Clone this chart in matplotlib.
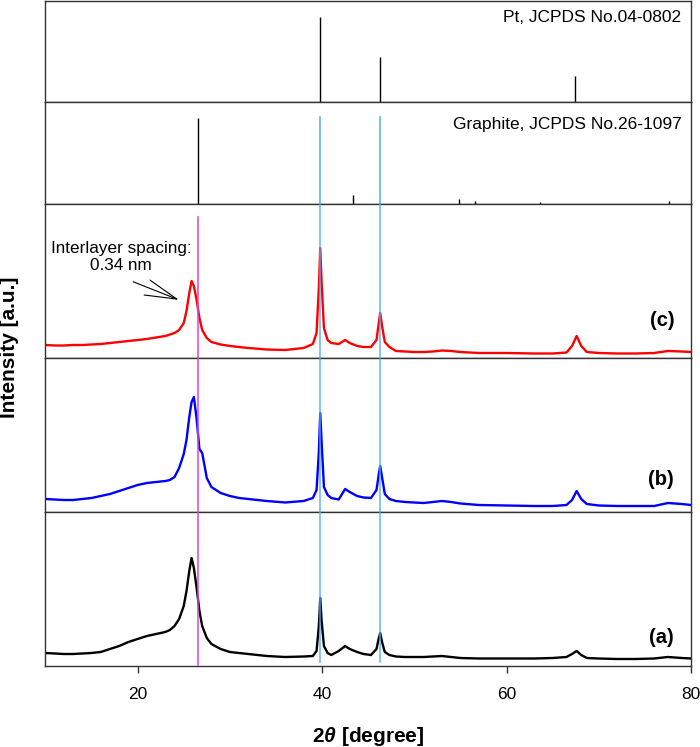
import matplotlib
matplotlib.use('Agg')
import matplotlib.pyplot as plt

plt.rcParams['font.family'] = ['Liberation Sans', 'DejaVu Sans']
plt.rcParams['mathtext.fontset'] = 'custom'
plt.rcParams['mathtext.rm'] = 'Liberation Sans:bold'
plt.rcParams['mathtext.it'] = 'Liberation Sans:italic:bold'

# reference patterns (JCPDS)
pt_pos = [39.76, 46.24, 67.45]
pt_int = [100, 53, 31]
gr_pos = [26.6, 43.4, 54.8, 56.6, 63.6, 77.6]
gr_int = [100, 10.5, 5.5, 3.5, 1.8, 3.8]

# measured scans (shared 2theta grid)
two_theta = [10, 11, 12, 13, 14, 15, 16, 17, 18, 19,
             20, 21, 22, 23, 23.5, 24, 24.5, 25, 25.3, 25.6,
             25.85, 26.1, 26.4, 26.7, 27, 27.5, 28, 29, 30, 31,
             32, 34, 36, 38, 39, 39.4, 39.65, 39.8, 39.95, 40.2,
             40.6, 41, 41.8, 42.5, 43, 43.8, 44.5, 45.3, 45.9, 46.15,
             46.3, 46.5, 46.8, 47.3, 48, 49, 50, 51, 52, 53,
             54, 55, 57, 60, 63, 65, 66.5, 67.1, 67.6, 68.1,
             68.7, 70, 72, 74, 76, 77.5, 79, 80]

int_a = [13, 12.5, 12, 12, 12.5, 13, 14, 17, 20, 24,
         27, 30, 32, 34, 36, 40, 47, 60, 75, 95,
         108, 98, 78, 55, 40, 28, 22, 17, 14, 13,
         12, 10, 9, 9.5, 10, 15, 40, 68, 45, 20,
         13, 11, 15, 20, 17, 14, 12, 11, 17, 28,
         33, 24, 14, 11, 9.5, 9, 9, 9, 9.5, 10,
         9, 8, 7.5, 7.5, 7.5, 8, 9, 12, 15, 11,
         8, 7.5, 7, 7, 7.5, 9, 8, 7.5]

int_b = [13, 12.5, 12, 12, 13, 14, 16, 18, 21, 24,
         27, 29, 30, 31, 32, 35, 44, 58, 72, 95,
         110, 115, 93, 63, 59, 34, 25, 19, 16, 14,
         13, 11, 9.5, 11, 14, 22, 60, 99, 70, 25,
         17, 14, 12.5, 23, 20, 16, 14.5, 14, 22, 38,
         46, 35, 18, 13, 11, 10, 9.5, 9, 10, 11,
         10, 8.5, 7, 6.5, 6, 6, 7, 12, 21, 13,
         8, 6.5, 6, 6, 6, 9, 8, 7]

int_c = [13, 12.5, 12.5, 13, 13, 13.5, 14, 15, 16, 17,
         18, 19, 20.5, 22, 23.5, 25, 28, 35, 47, 65,
         77, 72, 58, 40, 28, 20, 16, 13.5, 12, 11,
         10, 8.5, 8, 10, 14, 25, 70, 110, 75, 30,
         18, 15, 14, 18, 15, 12, 11, 11, 18, 35,
         45, 32, 16, 11, 7, 6.5, 6, 6, 6.5, 7.5,
         7, 6, 5, 5, 4.5, 4.5, 5.5, 12, 22, 12,
         6, 5, 4.5, 4.5, 5, 7, 6.5, 6]

fig = plt.figure(figsize=(7.0, 7.47), dpi=100)
gs = fig.add_gridspec(5, 1, height_ratios=[101, 102, 154, 154, 154],
                      left=45.4 / 700, right=691 / 700,
                      top=1 - 1 / 747, bottom=1 - 666 / 747, hspace=0)
axes = [fig.add_subplot(gs[i]) for i in range(5)]
ax_pt, ax_gr, ax_c, ax_b, ax_a = axes

for ax in axes:
    ax.set_xlim(10, 80)
    ax.set_yticks([])
    for sp in ax.spines.values():
        sp.set_linewidth(1.0)
        sp.set_color('#333333')
    if ax is not ax_a:
        ax.set_xticks([])

ax_pt.vlines(pt_pos, 0, pt_int, color='k', lw=1.0)
ax_pt.set_ylim(0, 119)
ax_pt.text(0.985, 0.84, 'Pt, JCPDS No.04-0802', transform=ax_pt.transAxes,
           ha='right', va='center', fontsize=12.5)

ax_gr.vlines(gr_pos, 0, gr_int, color='k', lw=1.0)
ax_gr.set_ylim(0, 119)
ax_gr.text(0.985, 0.775, 'Graphite, JCPDS No.26-1097', transform=ax_gr.transAxes,
           ha='right', va='center', fontsize=12.5)

for ax, y, col, lab, ly in [(ax_c, int_c, 'red', '(c)', 0.245),
                            (ax_b, int_b, 'blue', '(b)', 0.21),
                            (ax_a, int_a, 'black', '(a)', 0.185)]:
    ax.plot(two_theta, y, color=col, lw=1.7, zorder=2)
    ax.set_ylim(0, 154)
    ax.text(0.974, ly, lab, transform=ax.transAxes, ha='right', va='center',
            fontsize=14.5, fontweight='bold')

# guide lines across panels
blue_c = '#55aaf5'
mag_c = '#dd44dd'
for p in [39.76, 46.24]:
    ax_gr.axvline(p, ymin=0, ymax=0.853, color=blue_c, lw=1.1, zorder=3)
    ax_c.axvline(p, color=blue_c, lw=1.1, zorder=3, alpha=0.9)
    ax_b.axvline(p, color=blue_c, lw=1.1, zorder=3, alpha=0.9)
    ax_a.axvline(p, ymin=0.026, ymax=1, color=blue_c, lw=1.1, zorder=3, alpha=0.9)
ax_c.axvline(26.6, ymin=0, ymax=0.916, color=mag_c, lw=1.1, zorder=3)
ax_b.axvline(26.6, color=mag_c, lw=1.1, zorder=3)
ax_a.axvline(26.6, color=mag_c, lw=1.1, zorder=3)

# annotation
ax_c.text(0.117, 0.655, 'Interlayer spacing:\n0.34 nm', transform=ax_c.transAxes,
          ha='center', va='center', multialignment='center', fontsize=12.3,
          linespacing=1.2)
tip = (0.2034, 0.383)
for tail in [(0.136, 0.495), (0.162, 0.506), (0.153, 0.409)]:
    ax_c.annotate('', xy=tip, xytext=tail, xycoords='axes fraction',
                  textcoords='axes fraction',
                  arrowprops=dict(arrowstyle='-', color='k', lw=0.8,
                                  shrinkA=0, shrinkB=0))

ax_a.set_xticks([20, 40, 60, 80])
ax_a.tick_params(axis='x', direction='out', length=5, width=1.0,
                 labelsize=12.5, pad=10, color='#333333')
ax_a.set_xlabel(r'2$\mathit{\theta}$ [degree]', fontsize=15, fontweight='bold',
                labelpad=17)

fig.text(10 / 700, 1 - 347 / 747, 'Intensity [a.u.]', rotation=90,
         ha='center', va='center', fontsize=15, fontweight='bold')

fig.savefig('out.png', dpi=100)
